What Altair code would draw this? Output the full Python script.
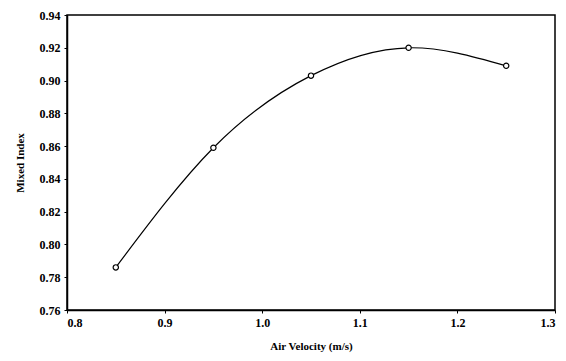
import altair as alt
import pandas as pd

air_velocity = [0.85, 0.95, 1.05, 1.15, 1.25]
mixed_index = [0.786, 0.859, 0.903, 0.920, 0.909]

df = pd.DataFrame({"v": air_velocity, "m": mixed_index})

font = "'Liberation Serif', 'Times New Roman', 'DejaVu Serif', serif"

x = alt.X("v:Q", scale=alt.Scale(domain=[0.8, 1.3], nice=False),
          axis=alt.Axis(values=[0.8, 0.9, 1.0, 1.1, 1.2, 1.3], format=".1f",
                        title="Air Velocity (m/s)"))
y = alt.Y("m:Q", scale=alt.Scale(domain=[0.76, 0.94], nice=False, zero=False),
          axis=alt.Axis(values=[0.76, 0.78, 0.80, 0.82, 0.84, 0.86, 0.88, 0.90, 0.92, 0.94],
                        format=".2f", title="Mixed Index"))

line = alt.Chart(df).mark_line(color="black", strokeWidth=1.2, interpolate="natural").encode(x=x, y=y)
pts = alt.Chart(df).mark_point(shape="circle", filled=True, fill="white", stroke="black",
                               strokeWidth=1.2, size=28, opacity=1).encode(x=x, y=y)

chart = alt.layer(line, pts).properties(
    width=488, height=295,
    autosize=alt.AutoSizeParams(type="none"),
    padding={"left": 59, "top": 7, "right": 3, "bottom": 43},
).configure_view(stroke="black", strokeWidth=1.5).configure_axis(
    grid=False, domainColor="black", domainWidth=1.5, tickColor="black", tickSize=3,
    labelFont=font, labelFontSize=12, labelFontWeight="bold", labelColor="black",
    titleFont=font, titleFontSize=11, titleFontWeight="bold", titleColor="black",
).configure_axisY(labelPadding=4, titlePadding=14).configure_axisX(labelPadding=4, titlePadding=12)

chart.save("out.html", embed_options={"renderer": "svg", "actions": False})
